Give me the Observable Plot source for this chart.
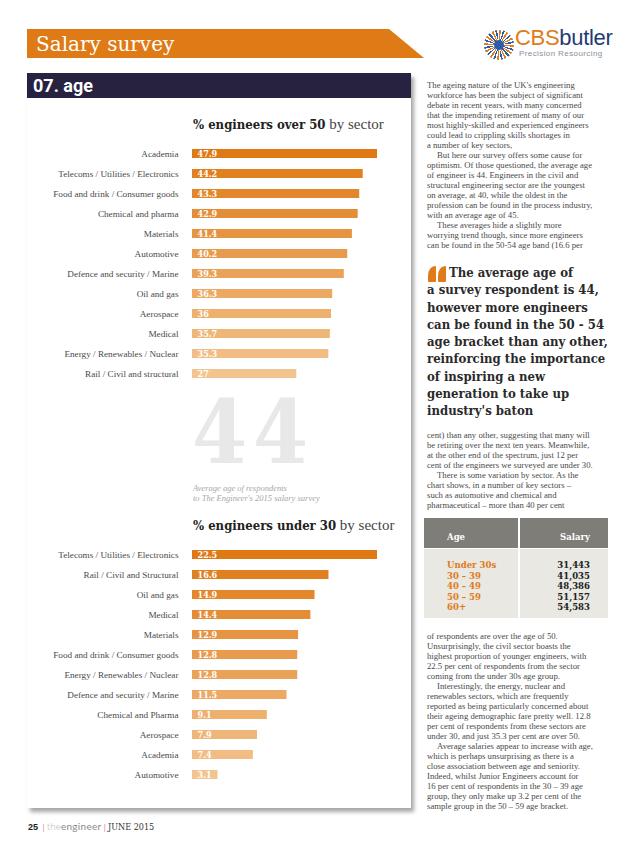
<!DOCTYPE html>
<html><head><meta charset="utf-8">
<script src="https://cdn.jsdelivr.net/npm/d3@7"></script>
<script src="https://cdn.jsdelivr.net/npm/@observablehq/plot@0.6"></script>
<style>
body{margin:0;width:638px;height:851px;position:relative;background:#fff;overflow:hidden;font-family:"Liberation Serif",serif;}
.a{position:absolute;}
.slab{font-family:"DejaVu Serif Condensed","DejaVu Serif",serif;font-stretch:condensed;}
.body{font-size:8.7px;color:#4a4a4a;white-space:nowrap;}
.body div{height:10px;line-height:10px;}
.quote{font-size:13px;font-weight:bold;color:#2a2a2a;white-space:nowrap;}
.quote div{height:17.3px;line-height:17.3px;}
.ind{padding-left:10px;}
.qm{position:absolute;top:266px;width:8px;height:16px;background:#e07b1a;border-radius:8px 1px 1px 1px / 11px 1px 1px 1px;}
</style></head><body>

<!-- header banner -->
<div class="a" style="left:27px;top:29px;width:397px;height:29px;background:#df7b16;clip-path:polygon(0 0,362px 0,100% 100%,0 100%);"></div>
<div class="a" style="left:36px;top:30px;font-family:'DejaVu Serif',serif;font-size:20px;color:#fff;line-height:28px;">Salary survey</div>

<!-- logo -->
<div class="a" style="left:484px;top:30px;width:30px;height:30px;border-radius:50%;background:repeating-conic-gradient(#e07b1a 0 8deg,#fff 8deg 15deg,#2e5da8 15deg 23deg,#fff 23deg 30deg);"></div>
<div class="a" style="left:494px;top:40px;width:10px;height:10px;border-radius:50%;background:#2e5da8;"></div>
<div class="a" style="left:515px;top:25px;font-family:'Liberation Sans',sans-serif;font-size:22px;line-height:26px;letter-spacing:-0.3px;"><span style="color:#e07b1a">CBS</span><span style="color:#233a74">butler</span></div>
<div class="a" style="left:519px;top:49px;font-family:'Liberation Sans',sans-serif;font-size:8px;color:#8a8f9a;letter-spacing:0.4px;">Precision Resourcing</div>

<!-- card -->
<div class="a" style="left:27px;top:73px;width:384px;height:735px;background:#fff;box-shadow:3px 4px 4px rgba(0,0,0,0.35);"></div>
<div class="a" style="left:27px;top:73px;width:384px;height:25px;background:#26223f;"></div>
<div class="a" style="left:33px;top:73px;font-family:'Liberation Sans Narrow','Roboto',sans-serif;font-weight:bold;font-size:18px;line-height:26px;color:#fff;">07. age</div>

<!-- chart titles -->
<div class="a" style="left:193px;top:115px;white-space:nowrap;color:#222;"><span class="slab" style="font-weight:bold;font-size:13px;">% engineers over 50</span><span style="font-size:15px;color:#444;"> by sector</span></div>
<div class="a" id="chart1" style="left:23px;top:143px;"></div>

<div class="a slab" style="left:192px;top:400px;font-size:88px;font-weight:bold;color:#e8e8e8;letter-spacing:6px;line-height:64px;">44</div>
<div class="a" style="left:193px;top:484px;font-style:italic;font-size:8.5px;line-height:9.5px;color:#a8a8a8;white-space:nowrap;">Average age of respondents<br>to The Engineer's 2015 salary survey</div>

<div class="a" style="left:193px;top:516px;white-space:nowrap;color:#222;"><span class="slab" style="font-weight:bold;font-size:13px;">% engineers under 30</span><span style="font-size:15px;color:#444;"> by sector</span></div>
<div class="a" id="chart2" style="left:23px;top:544px;"></div>

<!-- right column text -->
<div class="a body" style="left:427px;top:80px;">
<div>The ageing nature of the UK's engineering</div>
<div>workforce has been the subject of significant</div>
<div>debate in recent years, with many concerned</div>
<div>that the impending retirement of many of our</div>
<div>most highly-skilled and experienced engineers</div>
<div>could lead to crippling skills shortages in</div>
<div>a number of key sectors,</div>
<div class="ind">But here our survey offers some cause for</div>
<div>optimism. Of those questioned, the average age</div>
<div>of engineer is 44. Engineers in the civil and</div>
<div>structural engineering sector are the youngest</div>
<div>on average, at 40, while the oldest in the</div>
<div>profession can be found in the process industry,</div>
<div>with an average age of 45.</div>
<div class="ind">These averages hide a slightly more</div>
<div>worrying trend though, since more engineers</div>
<div>can be found in the 50-54 age band (16.6 per</div>
</div>

<div class="qm" style="left:428px;"></div>
<div class="qm" style="left:438px;"></div>
<div class="a quote slab" style="left:427px;top:264px;">
<div><span style="padding-left:22px">The average age of</span></div>
<div>a survey respondent is 44,</div>
<div>however more engineers</div>
<div>can be found in the 50 - 54</div>
<div>age bracket than any other,</div>
<div>reinforcing the importance</div>
<div>of inspiring a new</div>
<div>generation to take up</div>
<div>industry's baton</div>
</div>

<div class="a body" style="left:427px;top:430px;">
<div>cent) than any other, suggesting that many will</div>
<div>be retiring over the next ten years. Meanwhile,</div>
<div>at the other end of the spectrum, just 12 per</div>
<div>cent of the engineers we surveyed are under 30.</div>
<div class="ind">There is some variation by sector. As the</div>
<div>chart shows, in a number of key sectors –</div>
<div>such as automotive and chemical and</div>
<div>pharmaceutical – more than 40 per cent</div>
</div>

<!-- salary table -->
<div class="a" style="left:424px;top:518px;width:94px;height:30px;background:#7f7d78;"></div>
<div class="a" style="left:520px;top:518px;width:88px;height:30px;background:#7f7d78;"></div>
<div class="a" style="left:424px;top:549px;width:94px;height:69px;background:#e9e8e3;"></div>
<div class="a" style="left:520px;top:549px;width:88px;height:69px;background:#e9e8e3;"></div>
<div class="a slab" style="left:447px;top:528px;font-size:9.5px;font-weight:bold;color:#fff;line-height:18px;">Age</div>
<div class="a slab" style="left:540px;width:50px;text-align:right;top:528px;font-size:9.5px;font-weight:bold;color:#fff;line-height:18px;">Salary</div>
<div class="a slab" id="ages" style="left:447px;top:560px;font-size:9.5px;font-weight:bold;color:#e07b1a;line-height:10.5px;white-space:nowrap;"></div>
<div class="a slab" id="sals" style="left:530px;width:60px;text-align:right;top:560px;font-size:9.5px;font-weight:bold;color:#222;line-height:10.5px;"></div>

<div class="a body" style="left:427px;top:631px;">
<div>of respondents are over the age of 50.</div>
<div>Unsurprisingly, the civil sector boasts the</div>
<div>highest proportion of younger engineers, with</div>
<div>22.5 per cent of respondents from the sector</div>
<div>coming from the under 30s age group.</div>
<div class="ind">Interestingly, the energy, nuclear and</div>
<div>renewables sectors, which are frequently</div>
<div>reported as being particularly concerned about</div>
<div>their ageing demographic fare pretty well. 12.8</div>
<div>per cent of respondents from these sectors are</div>
<div>under 30, and just 35.3 per cent are over 50.</div>
<div class="ind">Average salaries appear to increase with age,</div>
<div>which is perhaps unsurprising as there is a</div>
<div>close association between age and seniority.</div>
<div>Indeed, whilst Junior Engineers account for</div>
<div>16 per cent of respondents in the 30 – 39 age</div>
<div>group, they only make up 3.2 per cent of the</div>
<div>sample group in the 50 – 59 age bracket.</div>
</div>

<!-- footer -->
<div class="a" style="left:28px;top:819px;white-space:nowrap;line-height:14px;font-size:9px;">
<span style="font-family:'Liberation Sans',sans-serif;font-weight:bold;color:#222;">25</span>
<span style="color:#d98aa3;font-weight:bold;">&nbsp;|&nbsp;</span><span style="font-family:Lato,sans-serif;font-size:10px;color:#b5b5b5;font-weight:300;">the</span><span style="font-family:Lato,sans-serif;font-size:10px;color:#8a8a8a;letter-spacing:0.3px;">engineer</span><span style="color:#d98aa3;font-weight:bold;">&nbsp;|&nbsp;</span><span class="slab" style="color:#333;font-size:9px;">JUNE 2015</span>
</div>

<script>
const over50Sectors = ["Academia","Telecoms / Utilities / Electronics","Food and drink / Consumer goods","Chemical and pharma","Materials","Automotive","Defence and security / Marine","Oil and gas","Aerospace","Medical","Energy / Renewables / Nuclear","Rail / Civil and structural"];
const over50Values = [47.9,44.2,43.3,42.9,41.4,40.2,39.3,36.3,36,35.7,35.3,27];
const under30Sectors = ["Telecoms / Utilities / Electronics","Rail / Civil and Structural","Oil and gas","Medical","Materials","Food and drink / Consumer goods","Energy / Renewables / Nuclear","Defence and security / Marine","Chemical and Pharma","Aerospace","Academia","Automotive"];
const under30Values = [22.5,16.6,14.9,14.4,12.9,12.8,12.8,11.5,9.1,7.9,7.4,3.1];
const ageBands = ["Under 30s","30 – 39","40 – 49","50 – 59","60+"];
const salaries = ["31,443","41,035","48,386","51,157","54,583"];

function barChart(sectors, values) {
  const n = sectors.length;
  const data = sectors.map((s, i) => ({sector: s, value: values[i], i}));
  const shade = d3.interpolateRgb("#df7916", "#f3c48f");
  return Plot.plot({
    width: 360, height: 240,
    marginLeft: 169, marginRight: 6, marginTop: 0, marginBottom: 0,
    style: {fontFamily: "Liberation Serif", fontSize: "9.2px", color: "#4a4a4a", background: "transparent"},
    x: {domain: [0, d3.max(values)], axis: null},
    y: {domain: sectors, paddingInner: 0.55, paddingOuter: 0.275, label: null, tickSize: 0, tickPadding: 14},
    marks: [
      Plot.barX(data, {x: "value", y: "sector", fill: d => shade(d.i / (n - 1))}),
      Plot.text(data, {x: 0, y: "sector", text: d => String(d.value), dx: 5, textAnchor: "start",
        fill: "white", fontWeight: "bold", fontSize: 9, fontFamily: "DejaVu Serif Condensed, DejaVu Serif"})
    ]
  });
}
document.getElementById("chart1").append(barChart(over50Sectors, over50Values));
document.getElementById("chart2").append(barChart(under30Sectors, under30Values));
document.getElementById("ages").innerHTML = ageBands.join("<br>");
document.getElementById("sals").innerHTML = salaries.join("<br>");
</script>
</body></html>
